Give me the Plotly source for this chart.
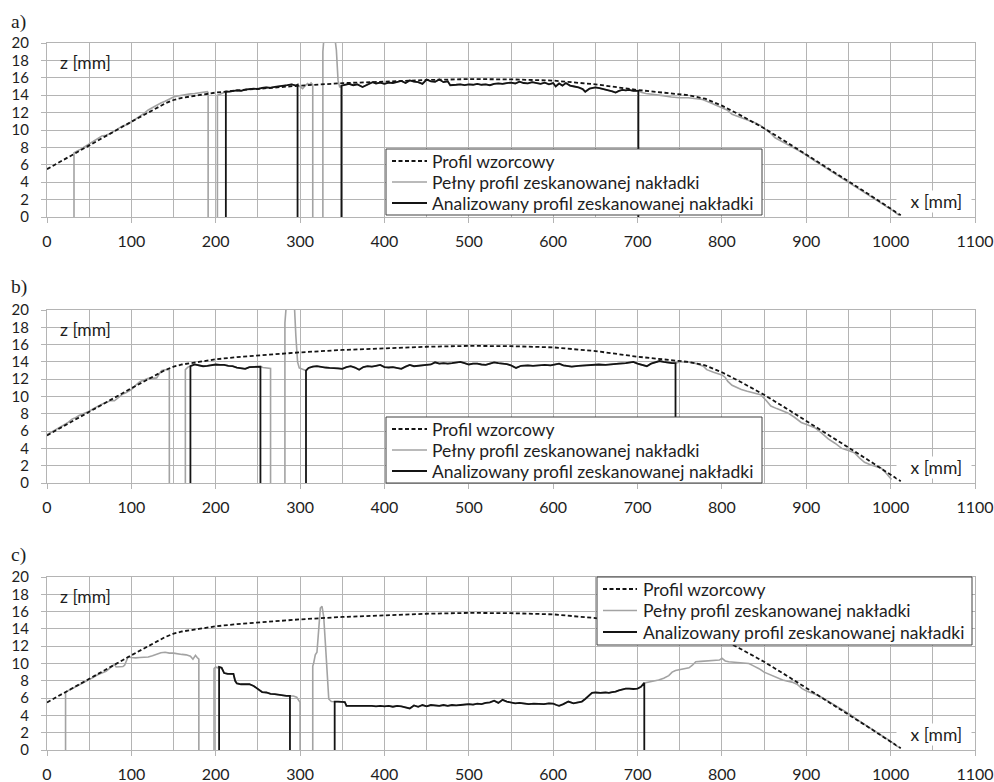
import plotly.graph_objects as go
from plotly.subplots import make_subplots

# ---------------- DATA ----------------
# Reference (design) profile - identical in all three panels
REF_X = [0, 20, 40, 60, 80, 100, 120, 140, 150, 160, 180, 200, 225, 250, 275, 300, 350, 400, 450, 500,
         550, 600, 650, 700, 730, 760, 780, 800, 820, 850, 880, 900, 925, 950, 975, 1000, 1012]
REF_Z = [5.5, 6.6, 7.7, 8.8, 9.9, 10.95, 12.0, 13.05, 13.45, 13.7, 14.0, 14.3, 14.55, 14.75, 14.95, 15.1, 15.38, 15.6, 15.75, 15.85,
         15.82, 15.68, 15.25, 14.6, 14.3, 14.0, 13.6, 12.8, 11.8, 10.2, 8.4, 7.2, 5.6, 4.1, 2.55, 1.0, 0.2]

# Full scanned profile (x [mm], z [mm]); None = gap in scan
A_FULL = [
    (32, 0), (32, 7.4), (40, 7.8), (45, 8.1), (50, 8.4), (55, 8.6), (60, 9.0), (65, 9.3), (70, 9.4), (75, 9.6),
    (80, 9.9), (85, 10.2), (90, 10.5), (95, 10.6), (100, 10.9), (105, 11.2), (110, 11.5), (115, 11.9), (120, 12.3),
    (125, 12.6), (130, 12.8), (135, 13.1), (140, 13.3), (145, 13.6), (150, 13.8), (155, 13.9), (160, 14.0),
    (165, 14.1), (170, 14.15), (175, 14.2), (180, 14.25), (185, 14.35), (190, 14.4), (191, 14.3), (191, 0),
    None,
    (202, 0), (202, 14.0), (205, 14.1), (208, 14.2), (212, 14.4), (216, 14.4), (220, 14.5), (225, 14.55),
    (230, 14.5), (235, 14.65), (240, 14.7), (245, 14.75), (250, 14.7), (255, 14.85), (260, 14.9), (265, 14.85),
    (270, 14.95), (275, 15.0), (280, 15.05), (285, 15.15), (290, 15.25), (295, 15.1), (297, 15.2), (300, 15.0),
    (303, 14.75), (306, 15.1), (309, 15.35), (311, 15.2), (313, 15.4), (315, 15.2), (315, 0),
    None,
    (327, 0), (327, 19), (329, 21.5), (332, 23), (336, 23), (340, 21.5), (343, 19.2), (345, 15.7), (347, 14.9),
    (349, 15.1), (353, 15.2), (358, 15.3), (363, 15.15), (368, 15.25), (374, 14.95), (380, 15.2), (386, 15.5),
    (390, 15.35), (395, 15.45), (400, 15.3), (405, 15.45), (410, 15.4), (415, 15.5), (420, 15.65), (425, 15.4),
    (430, 15.7), (435, 15.55), (440, 15.5), (445, 15.3), (450, 15.8), (455, 15.6), (460, 15.55), (465, 15.8),
    (470, 15.5), (475, 15.6), (478, 15.15), (485, 15.2), (490, 15.25), (495, 15.15), (500, 15.25), (505, 15.2),
    (510, 15.3), (515, 15.2), (520, 15.25), (525, 15.15), (530, 15.3), (535, 15.35), (540, 15.3), (545, 15.4),
    (550, 15.45), (555, 15.35), (560, 15.55), (565, 15.4), (570, 15.35), (575, 15.5), (580, 15.4), (585, 15.3),
    (590, 15.45), (595, 15.25), (600, 15.4), (603, 15.0), (607, 15.35), (611, 15.1), (615, 15.4), (620, 15.1),
    (625, 15.0), (630, 14.9), (635, 14.7), (638, 14.4), (643, 14.75), (650, 14.9), (655, 14.8), (660, 14.7),
    (665, 14.6), (670, 14.45), (674, 14.3), (678, 14.5), (682, 14.6), (686, 14.55), (690, 14.6), (695, 14.5),
    (701, 14.5), (705, 14.3), (710, 14.2), (720, 14.1), (730, 13.95), (740, 13.8), (750, 13.7), (760, 13.7),
    (770, 13.6), (777, 13.5), (785, 13.2), (793, 12.85), (800, 12.5), (806, 12.3), (812, 11.8), (818, 11.6),
    (824, 11.4), (832, 11.1), (840, 10.8), (846, 10.5), (852, 10.1), (858, 9.6), (863, 9.1), (867, 8.9),
    (871, 8.7), (881, 8.2), (891, 7.65), (897, 7.3), (903, 6.95), (911, 6.4), (919, 5.9), (927, 5.4), (935, 4.9),
    (943, 4.45), (951, 4.0), (961, 3.35), (971, 2.75), (975, 2.5), (979, 2.2), (986, 1.8), (992, 1.4), (998, 1.05),
    (1004, 0.65), (1010, 0.2),
]
A_ANALYZED = [(212, 297), (349, 701)]

B_FULL = [
    (0, 5.6), (5, 5.9), (10, 6.2), (15, 6.5), (20, 6.7), (25, 7.0), (30, 7.4), (33, 7.5), (38, 7.8), (45, 8.1),
    (50, 8.3), (55, 8.6), (60, 8.9), (65, 9.1), (70, 9.3), (75, 9.5), (80, 9.5), (85, 9.9), (90, 10.3),
    (93, 10.4), (97, 10.6), (100, 10.8), (105, 11.3), (110, 11.7), (115, 11.9), (120, 12.1), (125, 12.1),
    (130, 12.15), (133, 12.6), (136, 13.0), (140, 13.1), (143, 13.15), (145, 13.1), (145, 0),
    None,
    (164, 0), (164, 13.1), (167, 13.4), (170, 13.5), (175, 13.7), (180, 13.6), (185, 13.5), (190, 13.55),
    (195, 13.6), (200, 13.7), (205, 13.65), (210, 13.65), (215, 13.55), (220, 13.5), (225, 13.35), (230, 13.3),
    (235, 13.2), (240, 13.4), (245, 13.45), (250, 13.5), (253, 13.45), (256, 13.35), (260, 13.3), (263, 13.3),
    (265, 13.25), (265, 0),
    None,
    (282, 0), (282, 18.5), (284, 21), (287, 23), (290, 23), (293, 21), (295, 17), (297, 14), (299, 13.3),
    (302, 13.2), (305, 13.15), (307, 13.0), (310, 13.3), (315, 13.45), (320, 13.5), (325, 13.4), (330, 13.35),
    (335, 13.3), (340, 13.3), (345, 13.25), (350, 13.2), (355, 13.4), (360, 13.5), (365, 13.35), (370, 13.1),
    (375, 13.4), (380, 13.5), (385, 13.45), (390, 13.55), (395, 13.65), (400, 13.4), (405, 13.35), (410, 13.4),
    (415, 13.3), (420, 13.2), (425, 13.45), (430, 13.65), (435, 13.5), (440, 13.55), (445, 13.6), (450, 13.65),
    (455, 13.7), (460, 13.95), (465, 13.8), (470, 13.85), (475, 13.8), (480, 13.85), (485, 13.9), (490, 14.0),
    (495, 13.85), (500, 13.7), (505, 13.8), (510, 13.8), (515, 13.7), (520, 13.65), (525, 13.8), (530, 13.95),
    (535, 13.85), (540, 13.8), (545, 13.75), (550, 13.6), (556, 13.3), (562, 13.55), (570, 13.6), (576, 13.55),
    (583, 13.6), (590, 13.65), (597, 13.6), (603, 13.7), (607, 13.8), (612, 13.6), (617, 13.5), (622, 13.45),
    (630, 13.55), (638, 13.6), (646, 13.65), (654, 13.7), (662, 13.65), (670, 13.75), (678, 13.8), (686, 13.85),
    (695, 14.0), (700, 13.8), (705, 13.7), (711, 13.5), (716, 13.8), (721, 13.95), (726, 14.1), (731, 14.0),
    (736, 13.9), (741, 13.85), (745, 13.85), (750, 14.0), (760, 14.0), (770, 13.8), (778, 13.5), (782, 13.1),
    (790, 12.8), (800, 12.5), (804, 12.2), (807, 11.75), (812, 11.3), (818, 11.0), (823, 10.8), (830, 10.6),
    (838, 10.4), (846, 10.2), (852, 9.6), (858, 8.9), (865, 8.6), (872, 8.3), (878, 8.1), (886, 7.6), (894, 7.0),
    (902, 6.7), (910, 6.4), (918, 5.8), (926, 5.1), (934, 4.6), (942, 4.0), (950, 3.75), (957, 3.5), (963, 2.9),
    (969, 2.4), (976, 2.1), (983, 1.9), (989, 1.7), (995, 1.1), (1001, 0.4),
]
B_ANALYZED = [(170, 253), (307, 745)]

C_FULL = [
    (22, 0), (22, 6.7), (25, 6.85), (30, 7.1), (35, 7.4), (40, 7.6), (45, 7.9), (50, 8.1), (55, 8.4), (60, 8.7),
    (65, 8.9), (70, 9.1), (75, 9.5), (80, 9.9), (82, 9.6), (86, 9.6), (90, 9.65), (92, 9.8), (94, 10.4),
    (96, 10.75), (100, 10.7), (105, 10.65), (110, 10.7), (115, 10.7), (120, 10.75), (125, 10.9), (130, 11.05),
    (135, 11.25), (140, 11.3), (145, 11.2), (150, 11.2), (155, 11.1), (160, 11.05), (165, 11.0), (170, 10.85),
    (173, 10.5), (176, 10.95), (178, 10.7), (180, 10.5), (180, 0),
    None,
    (198, 0), (198, 9.4), (200, 9.6), (202, 9.5), (204, 9.6), (207, 9.5), (210, 8.9), (214, 8.8), (218, 8.75),
    (221, 8.8), (223, 8.0), (225, 7.7), (230, 7.6), (235, 7.6), (240, 7.6), (245, 7.4), (250, 7.0), (255, 6.7),
    (260, 6.65), (265, 6.5), (270, 6.45), (275, 6.35), (280, 6.3), (284, 6.25), (288, 6.25), (292, 6.25),
    (296, 6.1), (298, 5.8), (300, 5.5), (300, 0),
    None,
    (315, 0), (315, 9.7), (316, 10.0), (318, 11.0), (320, 11.3), (322, 14.2), (324, 16.4), (326, 16.6),
    (328, 15.4), (330, 12.3), (332, 9.6), (334, 5.9), (337, 5.6), (341, 5.6), (345, 5.6), (350, 5.6),
    (353, 5.55), (355, 5.1), (360, 5.1), (365, 5.15), (370, 5.1), (375, 5.1), (380, 5.15), (385, 5.1),
    (390, 5.05), (395, 5.1), (400, 5.05), (405, 5.1), (410, 5.0), (415, 5.1), (420, 5.05), (425, 4.95),
    (430, 4.8), (435, 5.15), (440, 5.0), (445, 5.2), (450, 5.05), (455, 5.2), (460, 5.15), (465, 5.1),
    (470, 5.2), (475, 5.1), (480, 5.2), (485, 5.15), (490, 5.2), (495, 5.25), (500, 5.3), (505, 5.25),
    (510, 5.35), (515, 5.3), (520, 5.45), (525, 5.5), (530, 5.7), (535, 5.45), (540, 5.8), (545, 5.6),
    (550, 5.5), (555, 5.4), (560, 5.45), (565, 5.35), (571, 5.3), (577, 5.35), (583, 5.3), (589, 5.3),
    (595, 5.4), (600, 5.35), (604, 5.2), (607, 5.1), (612, 5.3), (618, 5.6), (624, 5.4), (630, 5.5),
    (634, 5.6), (638, 5.9), (642, 6.2), (646, 6.6), (650, 6.65), (656, 6.6), (662, 6.65), (666, 6.6),
    (670, 6.7), (674, 6.75), (678, 6.9), (682, 7.0), (686, 7.1), (690, 7.1), (695, 7.05), (700, 7.1),
    (704, 7.3), (708, 7.75), (712, 7.8), (718, 7.95), (725, 8.1), (731, 8.3), (737, 8.6), (741, 9.0),
    (745, 9.2), (750, 9.3), (756, 9.45), (761, 9.5), (765, 9.8), (769, 10.2), (775, 10.25), (780, 10.3),
    (785, 10.3), (790, 10.35), (797, 10.4), (800, 10.6), (804, 10.3), (808, 10.2), (814, 10.15), (820, 10.1),
    (826, 10.05), (832, 10.0), (838, 9.7), (844, 9.4), (850, 9.0), (855, 8.8), (860, 8.6), (866, 8.3),
    (872, 8.1), (878, 7.95), (883, 7.85), (889, 7.6), (895, 7.1), (901, 6.8), (907, 6.6), (913, 6.35),
    (919, 6.05), (925, 5.7), (932, 5.3), (939, 4.9), (946, 4.5), (952, 4.1), (959, 3.6), (965, 3.2),
    (972, 2.75), (979, 2.35), (985, 1.95), (992, 1.5), (998, 1.15), (1004, 0.75), (1010, 0.3),
]
C_ANALYZED = [(204, 288), (341, 708)]

PANEL_LABELS = ["a)", "b)", "c)"]
NAMES = ["Profil wzorcowy", "Pełny profil zeskanowanej nakładki", "Analizowany profil zeskanowanej nakładki"]
X_TICKS = list(range(0, 1101, 100))
Y_TICKS = list(range(0, 21, 2))


# ---------------- HELPERS ----------------
def split(points):
    xs, zs = [], []
    for p in points:
        if p is None:
            xs.append(None)
            zs.append(None)
        else:
            xs.append(p[0])
            zs.append(p[1])
    return xs, zs


def analyzed(points, ranges):
    xs, zs = [], []
    for x0, x1 in ranges:
        seg = [p for p in points if p is not None and x0 <= p[0] <= x1]
        xs += [x0] + [p[0] for p in seg] + [x1, None]
        zs += [0] + [p[1] for p in seg] + [0, None]
    return xs, zs


FONT = "Lato"
GRID = "#b4b4b4"
TXT = "#1e1e1e"
GRAY = "#a3a3a3"
BLACK = "#141414"
DASH = "4px,2.5px"

W, H = 994, 782
# plot block geometry in page pixels
PX_L, PX_R, PX_T, PX_B = 47, 975, 43, 750


def px(xp):
    return (xp - PX_L) / (PX_R - PX_L)


def py(yp):
    return (PX_B - yp) / (PX_B - PX_T)


fig = make_subplots(rows=3, cols=1)

panels = [(A_FULL, A_ANALYZED), (B_FULL, B_ANALYZED), (C_FULL, C_ANALYZED)]
for i, (full, ranges) in enumerate(panels):
    row = i + 1
    gx, gz = split(full)
    bx, bz = analyzed(full, ranges)
    fig.add_trace(go.Scatter(x=gx, y=gz, mode="lines", name=NAMES[1], showlegend=False,
                             line=dict(color=GRAY, width=1.6), connectgaps=False), row=row, col=1)
    fig.add_trace(go.Scatter(x=bx, y=bz, mode="lines", name=NAMES[2], showlegend=False,
                             line=dict(color=BLACK, width=1.8), connectgaps=False), row=row, col=1)
    fig.add_trace(go.Scatter(x=REF_X, y=REF_Z, mode="lines", name=NAMES[0], showlegend=False,
                             line=dict(color=BLACK, width=1.8, dash=DASH)), row=row, col=1)

axis_common = dict(showgrid=True, gridcolor=GRID, gridwidth=1, zeroline=False, automargin=False,
                   showline=True, linecolor=GRID, linewidth=1, mirror=True,
                   ticks="outside", tickcolor=GRID, ticklen=5)
for i in range(3):
    sfx = "" if i == 0 else str(i + 1)
    fig.layout["xaxis" + sfx].update(range=[0, 1100], tickvals=X_TICKS,
                                     minor=dict(dtick=50, showgrid=True, gridcolor=GRID, ticks=""),
                                     ticklabelstandoff=5, tickfont=dict(family=FONT, size=16, color=TXT),
                                     **axis_common)
    fig.layout["yaxis" + sfx].update(range=[0, 20], tickvals=Y_TICKS, ticklabelstandoff=9,
                                     tickfont=dict(family=FONT, size=15, color=TXT), **axis_common)

fig.layout.yaxis.domain = [py(217), 1.0]
fig.layout.yaxis2.domain = [py(483), py(310)]
fig.layout.yaxis3.domain = [0.0, py(577)]

# legend boxes drawn per panel (page px): box, row centres, sample-line x range, text x
LEGENDS = [
    dict(box=(386, 149, 762, 215), rows=(161, 182, 203), line=(392, 427), text=431),
    dict(box=(386, 417, 762, 483), rows=(429, 450, 471), line=(392, 427), text=431),
    dict(box=(597, 577, 972, 645), rows=(589, 610.5, 632), line=(603, 637), text=642),
]
styles = [dict(color=BLACK, width=1.8, dash=DASH), dict(color=GRAY, width=1.6), dict(color=BLACK, width=1.8)]
for lg in LEGENDS:
    x0, y0, x1, y1 = lg["box"]
    fig.add_shape(type="rect", xref="paper", yref="paper", x0=px(x0), x1=px(x1), y0=py(y1), y1=py(y0),
                  fillcolor="white", line=dict(color="#404040", width=1), layer="above")
    for k in range(3):
        yy = py(lg["rows"][k])
        fig.add_shape(type="line", xref="paper", yref="paper", x0=px(lg["line"][0]), x1=px(lg["line"][1]),
                      y0=yy, y1=yy, line=styles[k], layer="above")
        fig.add_annotation(text=NAMES[k], xref="paper", yref="paper", x=px(lg["text"]), y=yy,
                           xanchor="left", yanchor="middle", showarrow=False, borderpad=0,
                           font=dict(family=FONT, size=17.5, color=TXT))

label_y = [22, 287, 555]
for i in range(3):
    sfx = "" if i == 0 else str(i + 1)
    fig.add_annotation(text=PANEL_LABELS[i], xref="paper", yref="paper", x=px(10), y=py(label_y[i]),
                       xanchor="left", yanchor="middle", showarrow=False, borderpad=0,
                       font=dict(family="Liberation Serif", size=19.5, color=TXT))
    fig.add_annotation(text="z [mm]", xref="x" + sfx, yref="y" + sfx, x=13, y=17.8,
                       xanchor="left", yanchor="middle", showarrow=False,
                       font=dict(family=FONT, size=17.5, color=TXT))
    fig.add_annotation(text="\u00a0\u00a0\u00a0x [mm]\u00a0\u00a0", xref="x" + sfx, yref="y" + sfx, x=1097, y=1.75,
                       xanchor="right", yanchor="middle", showarrow=False, bgcolor="white", borderpad=0,
                       font=dict(family=FONT, size=17.5, color=TXT))

fig.update_layout(template="none", width=W, height=H,
                  margin=dict(l=PX_L, r=W - PX_R, t=PX_T, b=H - PX_B),
                  paper_bgcolor="white", plot_bgcolor="white", font=dict(family=FONT, color=TXT),
                  showlegend=False)

fig.write_html("out.html", config={"displayModeBar": False},
               post_script="document.body.style.margin='0';")
